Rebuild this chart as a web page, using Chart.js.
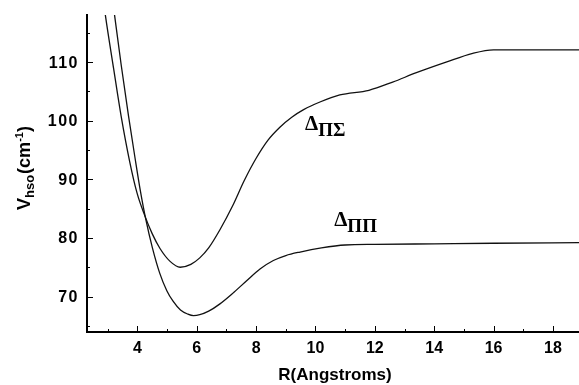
<!DOCTYPE html>
<html><head><meta charset="utf-8">
<script src="https://cdn.jsdelivr.net/npm/chart.js@4"></script>
<style>html,body{margin:0;padding:0;background:#fff;}#wrap{width:579px;height:385px;}</style>
</head><body><div id="wrap"><canvas id="c" width="579" height="385"></canvas></div>
<script>
// Δ_ΠΣ curve (upper at long range)
const rPiSigma = [2.8, 2.92, 3.2, 3.45, 3.74, 3.99, 4.24, 4.5, 4.76, 5.1, 5.44, 5.8, 6.1, 6.4, 6.78, 7.2, 7.6, 8.0, 8.4, 8.8, 9.2, 9.6, 10.15, 10.82, 11.8, 12.6, 13.4, 14.4, 15.3, 16.0, 17.0, 19.0];
const vPiSigma = [122.5, 118.0, 108.8, 100.8, 93.0, 87.6, 83.9, 80.7, 78.2, 76.0, 75.0, 75.5, 76.6, 78.3, 81.4, 85.4, 89.8, 93.6, 96.7, 98.9, 100.6, 101.9, 103.2, 104.4, 105.2, 106.6, 108.2, 110.0, 111.5, 112.1, 112.1, 112.1];
// Δ_ΠΠ curve (lower at long range)
const rPiPi = [3.1, 3.23, 3.45, 3.7, 3.92, 4.1, 4.28, 4.5, 4.75, 4.99, 5.2, 5.45, 5.7, 5.89, 6.1, 6.4, 6.78, 7.2, 7.68, 8.13, 8.58, 9.0, 9.48, 10.2, 11.0, 12.0, 14.0, 16.0, 19.0];
const vPiPi = [123.0, 118.0, 109.6, 100.8, 93.6, 88.0, 83.2, 78.4, 74.0, 71.0, 69.2, 67.7, 67.0, 66.75, 66.9, 67.5, 68.75, 70.5, 72.7, 74.7, 76.15, 77.0, 77.6, 78.3, 78.8, 78.9, 79.0, 79.1, 79.2];

const xTicks = [4, 6, 8, 10, 12, 14, 16, 18];
const xMinorTicks = [3, 5, 7, 9, 11, 13, 15, 17];
const yTicks = [70, 80, 90, 100, 110];
const yMinorTicks = [65, 75, 85, 95, 105, 115];

const labelPiSigma = {x: 9.65, y: 98.4, main: 'Δ', sub: 'ΠΣ'};
const labelPiPi = {x: 10.63, y: 82.1, main: 'Δ', sub: 'ΠΠ'};

const SANS = '"Liberation Sans", Arial, Helvetica, sans-serif';
const SERIF = '"Liberation Serif", "Times New Roman", "DejaVu Serif", serif';

const toPts = (xs, ys) => xs.map((x, i) => ({x: x, y: ys[i]}));

const decor = {
  id: 'decor',
  afterDraw(chart) {
    const ctx = chart.ctx, a = chart.chartArea;
    const xs = chart.scales.x, ys = chart.scales.y;
    ctx.save();
    ctx.strokeStyle = '#000';
    ctx.lineWidth = 1;
    ctx.beginPath();
    xTicks.forEach(v => { const p = Math.round(xs.getPixelForValue(v)) + 0.5; ctx.moveTo(p, a.bottom); ctx.lineTo(p, a.bottom - 6); });
    xMinorTicks.forEach(v => { const p = Math.round(xs.getPixelForValue(v)) + 0.5; ctx.moveTo(p, a.bottom); ctx.lineTo(p, a.bottom - 3); });
    yTicks.forEach(v => { const p = Math.round(ys.getPixelForValue(v)) + 0.5; ctx.moveTo(a.left, p); ctx.lineTo(a.left + 6, p); });
    yMinorTicks.forEach(v => { const p = Math.round(ys.getPixelForValue(v)) + 0.5; ctx.moveTo(a.left, p); ctx.lineTo(a.left + 3, p); });
    ctx.stroke();

    ctx.fillStyle = '#000';
    // y tick labels (letter-spaced, as in the reference)
    ctx.font = 'bold 16px ' + SANS;
    ctx.textAlign = 'right';
    ctx.textBaseline = 'middle';
    try { ctx.letterSpacing = '1.5px'; } catch (e) {}
    yTicks.forEach(v => { ctx.fillText(String(v), a.left - 8, ys.getPixelForValue(v) + 1); });
    try { ctx.letterSpacing = '0px'; } catch (e) {}

    // x title
    ctx.font = 'bold 17px ' + SANS;
    ctx.textAlign = 'center';
    ctx.textBaseline = 'alphabetic';
    ctx.fillText('R(Angstroms)', (a.left + a.right) / 2 + 2, 380);

    // y title with sub/superscript
    ctx.save();
    ctx.translate(30, 210);
    ctx.rotate(-Math.PI / 2);
    ctx.textAlign = 'left';
    let cx = 0;
    ctx.font = 'bold 18px ' + SANS; ctx.fillText('V', cx, 0); cx += ctx.measureText('V').width;
    ctx.font = 'bold 13px ' + SANS; ctx.fillText('hso', cx, 4); cx += ctx.measureText('hso').width + 1;
    ctx.font = 'bold 18px ' + SANS; ctx.fillText('(cm', cx, 0); cx += ctx.measureText('(cm').width;
    ctx.font = 'bold 11px ' + SANS; ctx.fillText('-1', cx, -7); cx += ctx.measureText('-1').width;
    ctx.font = 'bold 18px ' + SANS; ctx.fillText(')', cx, 0);
    ctx.restore();

    // curve labels
    [labelPiSigma, labelPiPi].forEach(l => {
      const px = xs.getPixelForValue(l.x), py = ys.getPixelForValue(l.y);
      ctx.textAlign = 'left';
      ctx.font = 'bold 21px ' + SERIF;
      ctx.fillText(l.main, px, py);
      const w = ctx.measureText(l.main).width;
      ctx.font = 'bold 19px ' + SERIF;
      ctx.fillText(l.sub, px + w, py + 6);
    });
    ctx.restore();
  }
};

const lineDs = (label, xs, ys) => ({
  label: label,
  data: toPts(xs, ys),
  borderColor: '#111',
  borderWidth: 1.3,
  pointRadius: 0,
  fill: false,
  cubicInterpolationMode: 'monotone'
});

new Chart(document.getElementById('c'), {
  type: 'line',
  data: { datasets: [lineDs('ΔΠΣ', rPiSigma, vPiSigma), lineDs('ΔΠΠ', rPiPi, vPiPi)] },
  options: {
    responsive: false,
    animation: false,
    devicePixelRatio: 1,
    layout: { padding: { top: 15, right: 0, left: 0, bottom: 0 } },
    plugins: { legend: { display: false }, tooltip: { enabled: false } },
    scales: {
      x: {
        type: 'linear', min: 2.3, max: 18.88,
        grid: { display: false, drawTicks: false },
        border: { display: true, width: 2, color: '#000' },
        ticks: { color: '#000', font: { family: SANS, size: 16, weight: 'bold' }, padding: 7, maxRotation: 0, autoSkip: false },
        afterBuildTicks: s => { s.ticks = xTicks.map(v => ({value: v})); },
        afterFit: s => { s.height = 53; }
      },
      y: {
        type: 'linear', min: 63.95, max: 118.05,
        grid: { display: false, drawTicks: false },
        border: { display: true, width: 2, color: '#000' },
        ticks: { display: false },
        afterBuildTicks: s => { s.ticks = yTicks.map(v => ({value: v})); },
        afterFit: s => { s.width = 87; }
      }
    }
  },
  plugins: [decor]
});
</script>
</body></html>
